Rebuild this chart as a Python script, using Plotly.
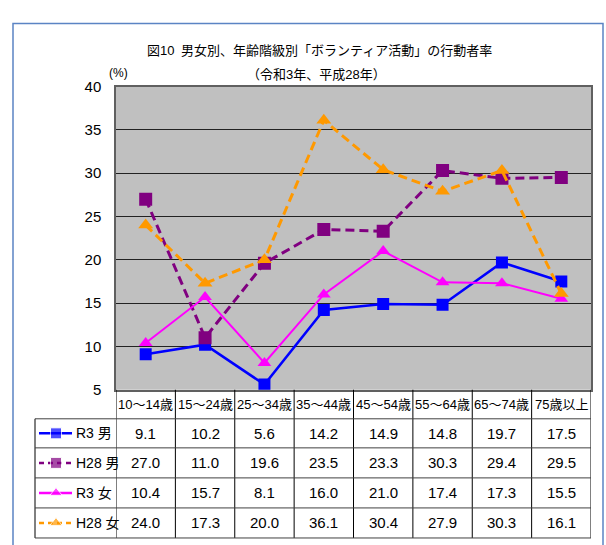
import plotly.graph_objects as go

W, H = 606, 545

categories = ["10～14歳", "15～24歳", "25～34歳", "35～44歳",
              "45～54歳", "55～64歳", "65～74歳", "75歳以上"]
series_names = ["R3 男", "H28 男", "R3 女", "H28 女"]
r3_male = [9.1, 10.2, 5.6, 14.2, 14.9, 14.8, 19.7, 17.5]
h28_male = [27.0, 11.0, 19.6, 23.5, 23.3, 30.3, 29.4, 29.5]
r3_female = [10.4, 15.7, 8.1, 16.0, 21.0, 17.4, 17.3, 15.5]
h28_female = [24.0, 17.3, 20.0, 36.1, 30.4, 27.9, 30.3, 16.1]
y_ticks = [5, 10, 15, 20, 25, 30, 35, 40]

FONT = "Liberation Sans Narrow, Arial Narrow, Liberation Sans, Noto Sans CJK JP"

# style per series: colour, dash, marker symbol, marker size, line width
styles = [
    ("#0000FF", "solid", "square", 12, 2.5),
    ("#800080", "9px,5px", "square", 13, 3),
    ("#FF00FF", "solid", "triangle-up", 12, 2),
    ("#FF9900", "9px,5px", "triangle-up", 13, 3),
]
all_values = [r3_male, h28_male, r3_female, h28_female]


def fx(px):
    return px / W


def fy(py):
    return 1 - py / H


PLOT_L, PLOT_R, PLOT_T, PLOT_B = 116, 591, 80, 393
ROW_LINES = [PLOT_B, 423, 453, 484, 515, 546]
TABLE_L = 35

fig = go.Figure()

# ── main line series ─────────────────────────────────────────────────────
for name, vals, (color, dash, sym, msize, lw) in zip(series_names, all_values, styles):
    fig.add_trace(
        go.Scatter(
            x=categories, y=vals, name=name,
            mode="lines+markers",
            line=dict(color=color, dash=dash, width=lw),
            marker=dict(color=color, symbol=sym, size=msize),
            showlegend=False,
            xaxis="x", yaxis="y",
        )
    )

# ── legend keys inside the data table (overlay axes in pixel units) ──────
for i, (color, dash, sym, msize, lw) in enumerate(styles):
    yc = (ROW_LINES[i + 1] + ROW_LINES[i + 2]) / 2
    key_dash = "solid" if dash == "solid" else "5px,4px"
    fig.add_trace(
        go.Scatter(
            x=[39, 56, 72], y=[yc, yc, yc],
            mode="lines+markers",
            line=dict(color=color, dash=key_dash, width=2.5),
            marker=dict(color=color, symbol=sym, size=[0, 11, 0]),
            showlegend=False, hoverinfo="skip", cliponaxis=False,
            xaxis="x2", yaxis="y2",
        )
    )

shapes = []
# grey plot area
shapes.append(dict(type="rect", xref="x domain", yref="y domain", x0=0, x1=1, y0=0, y1=1,
                   fillcolor="#C0C0C0", line=dict(width=0), layer="below"))
# outer frame
shapes.append(dict(type="rect", xref="paper", yref="paper",
                   x0=fx(13), x1=fx(603), y0=fy(15), y1=fy(575),
                   line=dict(color="#5B84C4", width=1.5), fillcolor="rgba(0,0,0,0)"))

# table vertical lines (column boundaries follow the category axis)
for i in range(len(categories) + 1):
    shapes.append(dict(type="line", xref="x", yref="paper",
                       x0=i - 0.5, x1=i - 0.5, y0=fy(PLOT_B), y1=fy(ROW_LINES[-1]),
                       line=dict(color="#000000", width=1)))
shapes.append(dict(type="line", xref="paper", yref="paper",
                   x0=fx(TABLE_L), x1=fx(TABLE_L), y0=fy(ROW_LINES[1]), y1=fy(ROW_LINES[-1]),
                   line=dict(color="#000000", width=1)))
# table horizontal lines
for ry in ROW_LINES[1:]:
    shapes.append(dict(type="line", xref="paper", yref="paper",
                       x0=fx(TABLE_L), x1=fx(PLOT_R), y0=fy(ry), y1=fy(ry),
                       line=dict(color="#404040", width=1)))


def note(x, y, text, size, xref="paper", xanchor="center"):
    return dict(x=x, y=y, xref=xref, yref="paper", text=text, showarrow=False,
                xanchor=xanchor, yanchor="middle",
                font=dict(size=size, color="black", family=FONT))


annotations = []
# header row: categories
for c in categories:
    annotations.append(note(c, fy((ROW_LINES[0] + ROW_LINES[1]) / 2), c, 13, xref="x"))
# value rows
for i, vals in enumerate(all_values):
    yc = fy((ROW_LINES[i + 1] + ROW_LINES[i + 2]) / 2)
    for c, v in zip(categories, vals):
        annotations.append(note(c, yc, f"{v:.1f}", 15, xref="x"))
    annotations.append(note(fx(74), yc, series_names[i], 14, xanchor="left"))

# titles and unit
annotations.append(note(fx(319), fy(43),
                        "図10\u2002男女別、年齢階級別「ボランティア活動」の行動者率", 13))
annotations.append(note(fx(317), fy(68), "（令和3年、平成28年）", 13))
annotations.append(note(fx(118), fy(66), "(%)", 12))

fig.update_layout(
    width=W, height=H,
    margin=dict(l=0, r=0, t=0, b=0),
    paper_bgcolor="white",
    plot_bgcolor="rgba(0,0,0,0)",
    font=dict(family=FONT, size=15, color="black"),
    xaxis=dict(
        domain=[fx(PLOT_L), fx(PLOT_R)],
        type="category", range=[-0.5, len(categories) - 0.5],
        showticklabels=False, showgrid=False, zeroline=False,
        showline=True, linecolor="#606060", linewidth=1.5, mirror=True,
        ticks="", fixedrange=True,
    ),
    yaxis=dict(
        domain=[fy(PLOT_B), fy(PLOT_T)],
        range=[5, 40], tickvals=y_ticks,
        showgrid=True, gridcolor="#222222", gridwidth=1,
        zeroline=False, ticks="", ticklabelstandoff=10,
        showline=True, linecolor="#606060", linewidth=1.5, mirror=True,
        tickfont=dict(size=15, family=FONT), fixedrange=True,
    ),
    xaxis2=dict(domain=[0, 1], range=[0, W], visible=False, anchor="y2", fixedrange=True),
    yaxis2=dict(domain=[0, 1], range=[H, 0], visible=False, anchor="x2", fixedrange=True),
    shapes=shapes,
    annotations=annotations,
)

fig.write_html("out.html", config={"displayModeBar": False},
               post_script="document.body.style.margin = '0';")
